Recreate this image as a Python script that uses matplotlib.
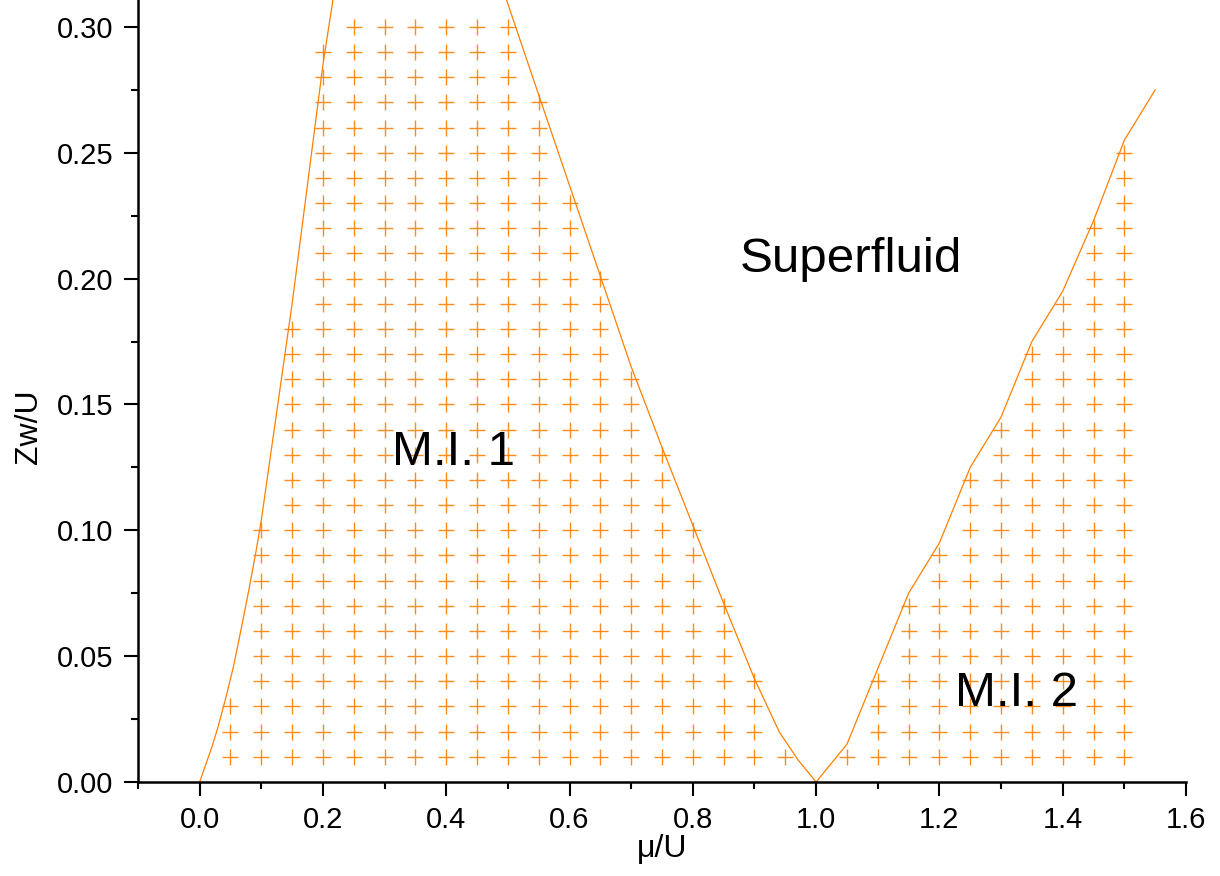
import numpy as np
import matplotlib
matplotlib.use("Agg")
import matplotlib.pyplot as plt
from matplotlib.ticker import MultipleLocator

plt.rcParams['font.family'] = ['Liberation Sans', 'DejaVu Sans']

# Marker grid: column positions (mu/U) and highest marked Zw/U in each column
col_x = [0.05, 0.10, 0.15, 0.20, 0.25, 0.30, 0.35, 0.40, 0.45, 0.50,
         0.55, 0.60, 0.65, 0.70, 0.75, 0.80, 0.85, 0.90, 0.95,
         1.05, 1.10, 1.15, 1.20, 1.25, 1.30, 1.35, 1.40, 1.45, 1.50]
col_top = [0.03, 0.10, 0.18, 0.29, 0.30, 0.30, 0.30, 0.30, 0.30, 0.30,
           0.27, 0.23, 0.20, 0.16, 0.13, 0.10, 0.07, 0.04, 0.01,
           0.01, 0.04, 0.07, 0.09, 0.12, 0.14, 0.17, 0.19, 0.22, 0.25]
row_step = 0.01

# Phase boundary lines
lobe1_left_x = [0.0, 0.01, 0.02, 0.03, 0.043, 0.055, 0.065, 0.078, 0.091, 0.10, 0.15, 0.20, 0.222]
lobe1_left_y = [0.0, 0.007, 0.014, 0.022, 0.034, 0.046, 0.058, 0.074, 0.091, 0.104, 0.19, 0.285, 0.32]
lobe1_right_x = [0.485, 0.55, 0.60, 0.65, 0.70, 0.75, 0.80, 0.85, 0.90, 0.94, 0.97, 1.00]
lobe1_right_y = [0.32, 0.273, 0.237, 0.201, 0.165, 0.133, 0.102, 0.071, 0.041, 0.02, 0.009, 0.0]
lobe2_x = [1.00, 1.05, 1.10, 1.15, 1.20, 1.25, 1.30, 1.35, 1.40, 1.45, 1.50, 1.55]
lobe2_y = [0.0, 0.015, 0.045, 0.075, 0.095, 0.125, 0.145, 0.175, 0.195, 0.223, 0.255, 0.275]

labels = [("Superfluid", 0.876, 0.2026), ("M.I. 1", 0.3116, 0.126), ("M.I. 2", 1.225, 0.030)]

orange = '#FF8000'

fig = plt.figure(figsize=(12.2, 8.76), dpi=100)
ax = fig.add_axes([138/1220, 94/876, (1186-138)/1220, 782/876])

mx, my = [], []
for x, top in zip(col_x, col_top):
    n = int(round(top / row_step))
    for k in range(1, n + 1):
        mx.append(x)
        my.append(k * row_step)
ax.plot(mx, my, linestyle='none', marker='+', markersize=11, markeredgewidth=1.0,
        color=orange, alpha=0.9)

for xs, ys in [(lobe1_left_x, lobe1_left_y), (lobe1_right_x, lobe1_right_y), (lobe2_x, lobe2_y)]:
    ax.plot(xs, ys, color=orange, linewidth=0.9)

for txt, x, y in labels:
    ax.text(x, y, txt, fontsize=35.5, ha='left', va='baseline', color='black')

ax.set_xlim(-0.1, 1.6)
ax.set_ylim(0, 0.3107)
ax.spines['top'].set_visible(False)
ax.spines['right'].set_visible(False)
for s in ['left', 'bottom']:
    ax.spines[s].set_linewidth(1.8)

ax.xaxis.set_major_locator(MultipleLocator(0.2))
ax.xaxis.set_minor_locator(MultipleLocator(0.1))
ax.yaxis.set_major_locator(MultipleLocator(0.05))
ax.yaxis.set_minor_locator(MultipleLocator(0.025))
ax.xaxis.set_major_formatter(matplotlib.ticker.FormatStrFormatter('%.1f'))
ax.yaxis.set_major_formatter(matplotlib.ticker.FormatStrFormatter('%.2f'))
ax.tick_params(which='major', direction='out', length=10, width=1.5, labelsize=21)
ax.tick_params(which='minor', direction='out', length=5, width=1.5)
ax.tick_params(axis='x', which='major', pad=7)
ax.tick_params(axis='y', which='major', pad=8)

ax.set_xlabel('μ/U', fontsize=23, labelpad=0)
ax.set_ylabel('Zw/U', fontsize=23)
ax.yaxis.set_label_coords(-0.09, 0.454)

fig.savefig('out.png', dpi=100)
